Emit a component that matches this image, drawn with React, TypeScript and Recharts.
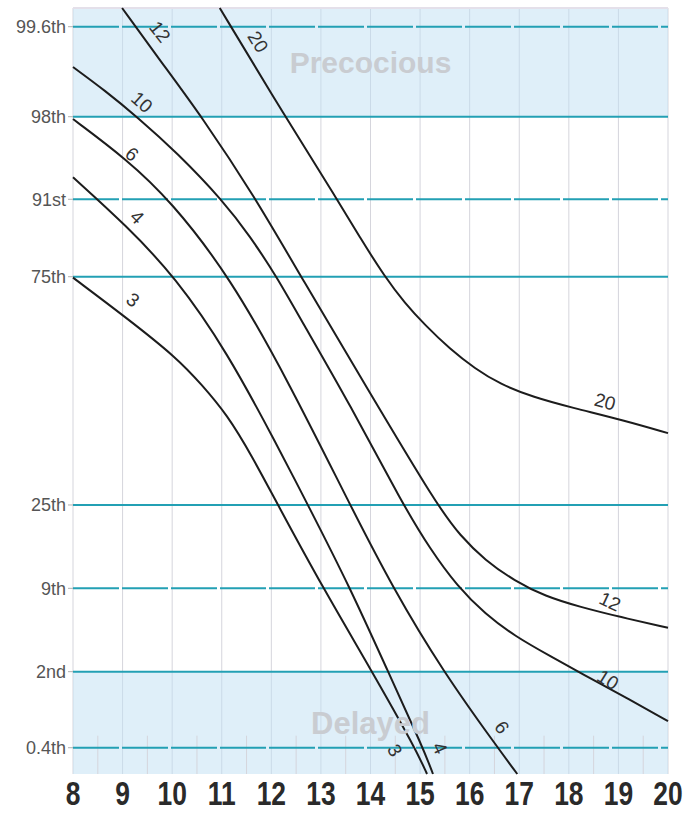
import { LineChart, Line, XAxis, YAxis, CartesianGrid, ReferenceArea, ReferenceLine, ReferenceDot } from 'recharts';

// x: age in years, pos: position on the centile scale (0 = bottom of chart, 10 = top)
const AGES = [8, 9, 10, 11, 12, 13, 14, 15, 16, 17, 18, 19, 20];
const HALF_AGES = [8.5, 9.5, 10.5, 11.5, 12.5, 13.5, 14.5, 15.5, 16.5, 17.5, 18.5, 19.5];

const CENTILES = ['0.4th', '2nd', '9th', '25th', '75th', '91st', '98th', '99.6th'];
const CENTILE_POS = [0.343, 1.336, 2.424, 3.512, 6.492, 7.503, 8.581, 9.756];
const DASHED = ['0.4th', '9th', '91st', '99.6th'];

type Pt = { age: number; pos: number };
const toPts = (rows: number[][]): Pt[] => rows.map(([age, pos]) => ({ age, pos }));

const CURVE_3 = toPts([[8, 6.48], [9.09, 5.95], [10.1, 5.43], [10.6, 5.08], [11.11, 4.69], [11.61, 4.15], [12.11, 3.54], [13.04, 2.43], [14.03, 1.34], [14.9, 0.34], [15.14, 0]]);
const CURVE_4 = toPts([[8, 7.79], [9.09, 7.15], [10.06, 6.49], [11.11, 5.51], [12.11, 4.3], [12.74, 3.51], [13.59, 2.43], [14.35, 1.34], [15.06, 0.34], [15.26, 0]]);
const CURVE_6 = toPts([[8, 8.55], [9.09, 8.02], [9.96, 7.49], [11.17, 6.49], [12.38, 5.08], [13.59, 3.51], [14.45, 2.43], [15.46, 1.34], [16.57, 0.34], [16.96, 0]]);
const CURVE_10 = toPts([[8, 9.23], [8.65, 8.92], [9.29, 8.58], [10.1, 8.11], [11.03, 7.48], [11.57, 7.02], [12.11, 6.49], [12.58, 5.95], [13.59, 4.82], [14.66, 3.51], [15.2, 2.94], [15.75, 2.45], [16.31, 2.09], [16.91, 1.8], [17.62, 1.54], [18.43, 1.25], [19.23, 0.97], [20, 0.69]]);
const CURVE_12 = toPts([[8.99, 10], [9.75, 9.32], [10.6, 8.58], [11.67, 7.53], [12.6, 6.49], [13.93, 5.04], [15.34, 3.51], [15.81, 3.11], [16.31, 2.79], [16.91, 2.52], [17.52, 2.32], [18.23, 2.18], [19.03, 2.05], [20, 1.91]]);
const CURVE_20 = toPts([[10.96, 10], [12.28, 8.58], [13.32, 7.51], [13.79, 7.0], [14.29, 6.49], [14.69, 6.15], [15.1, 5.86], [15.6, 5.55], [16.11, 5.29], [16.61, 5.09], [17.28, 4.92], [18.08, 4.78], [19.09, 4.62], [20, 4.45]]);

const CURVES = [CURVE_3, CURVE_4, CURVE_6, CURVE_10, CURVE_12, CURVE_20];

const CURVE_LABELS = [
  { text: '12', age: 9.75, pos: 9.69, angle: 52 },
  { text: '20', age: 11.73, pos: 9.56, angle: 58 },
  { text: '10', age: 9.39, pos: 8.77, angle: 42 },
  { text: '6', age: 9.19, pos: 8.09, angle: 40 },
  { text: '4', age: 9.29, pos: 7.27, angle: 45 },
  { text: '3', age: 9.21, pos: 6.19, angle: 38 },
  { text: '20', age: 18.73, pos: 4.86, angle: 15 },
  { text: '12', age: 18.83, pos: 2.25, angle: 25 },
  { text: '10', age: 18.79, pos: 1.23, angle: 32 },
  { text: '6', age: 16.65, pos: 0.61, angle: 55 },
  { text: '4', age: 15.4, pos: 0.34, angle: 65 },
  { text: '3', age: 14.49, pos: 0.31, angle: 60 },
];

const TEAL = '#23a0b4';
const FONT = '"Liberation Sans", Arial, sans-serif';

function AgeTick({ x, y, payload }: any) {
  return (
    <g transform={`translate(${x},${y})`}>
      <text transform="scale(0.8,1)" y={23} textAnchor="middle" fontFamily={FONT} fontWeight="bold" fontSize={33} fill="#2a2a2a">
        {payload.value}
      </text>
    </g>
  );
}

export default function App() {
  return (
    <div style={{ position: 'absolute', left: 0, top: 0, background: '#fff' }}>
      <LineChart width={686} height={814} margin={{ top: 8, right: 18, bottom: 0, left: 0 }}>
        <CartesianGrid horizontal={false} stroke="#d5d5dc" strokeWidth={1} />
        <ReferenceArea y1={CENTILE_POS[6]} y2={10} fill="#bfdff3" fillOpacity={0.5} stroke="none"
          label={{ value: 'Precocious', position: 'center', fill: '#c9ccd1', fontSize: 30, fontWeight: 'bold', fontFamily: FONT }} />
        <ReferenceArea y1={0} y2={CENTILE_POS[1]} fill="#bfdff3" fillOpacity={0.5} stroke="none"
          label={{ value: 'Delayed', position: 'center', fill: '#c9ccd1', fontSize: 31, fontWeight: 'bold', fontFamily: FONT }} />
        {HALF_AGES.map((a) => (
          <ReferenceLine key={`h${a}`} segment={[{ x: a, y: 0 }, { x: a, y: 0.5 }]} stroke="#d5d5dc" />
        ))}
        <ReferenceLine y={10} stroke="#e4e0ea" strokeWidth={2} />
        {CENTILE_POS.map((p, i) => (
          <ReferenceLine key={CENTILES[i]} y={p} stroke={TEAL} strokeWidth={2}
            strokeDasharray={DASHED.includes(CENTILES[i]) ? '46 3' : undefined} />
        ))}
        <XAxis type="number" dataKey="age" domain={[8, 20]} ticks={AGES} height={40}
          axisLine={false} tickLine={false} tick={<AgeTick />} interval={0} />
        <YAxis type="number" dataKey="pos" domain={[0, 10]} ticks={CENTILE_POS} width={73} interval={0}
          axisLine={false} tickLine={{ stroke: '#b0b0b0' }} tickSize={5}
          tick={{ fill: '#555', fontSize: 18, fontFamily: FONT }}
          tickFormatter={(v: number) => CENTILES[CENTILE_POS.indexOf(v)] ?? ''} />
        {CURVES.map((c, i) => (
          <Line key={i} data={c} dataKey="pos" type="basis" stroke="#1c1c1c" strokeWidth={2}
            dot={false} activeDot={false} isAnimationActive={false} />
        ))}
        {CURVE_LABELS.map((l, i) => (
          <ReferenceDot key={`l${i}`} x={l.age} y={l.pos} r={0} ifOverflow="visible"
            shape={(p: any) => (
              <text x={p.cx} y={p.cy} transform={`rotate(${l.angle} ${p.cx} ${p.cy})`} textAnchor="middle"
                dominantBaseline="central" fontFamily={FONT} fontSize={19} fill="#333">
                {l.text}
              </text>
            )} />
        ))}
      </LineChart>
    </div>
  );
}
